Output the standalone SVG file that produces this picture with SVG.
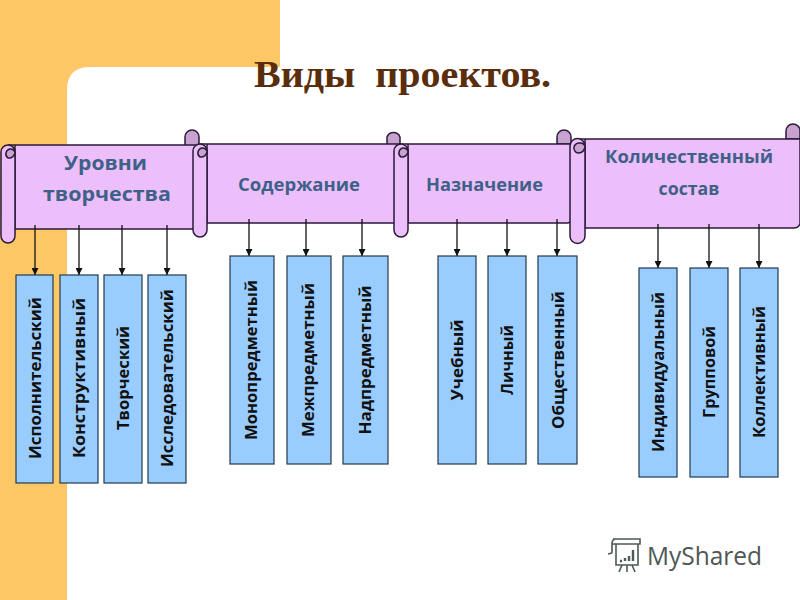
<svg xmlns="http://www.w3.org/2000/svg" width="800" height="600" viewBox="0 0 800 600">
<style>
.body{fill:#ecbffb;stroke:#2b1a3a;stroke-width:1.5}
.curl{fill:#c9a3cf;stroke:#2b1a3a;stroke-width:1.5}
.head{font-family:"Open Sans","Noto Sans",sans-serif;font-weight:700;fill:#3e6187;text-anchor:middle}
.box{fill:#99ccff;stroke:#1f3a4d;stroke-width:1.2}
.lab{font-family:"Open Sans","Noto Sans",sans-serif;font-weight:700;font-size:15.5px;fill:#111;text-anchor:middle}
.conn{stroke:#111;stroke-width:1.3;fill:none;marker-end:url(#arr)}
</style>
<defs>
<marker id="arr" markerUnits="userSpaceOnUse" markerWidth="8" markerHeight="7" refX="7" refY="3.5" orient="auto"><path d="M0 0L7 3.5L0 7Z" fill="#111"/></marker>
</defs>
<g id="background">
<rect width="800" height="600" fill="#fff"/>
<path d="M0 0H280V67H90Q67 67 67 90V600H0Z" fill="#fec765"/>
</g>
<text id="title" x="254" y="87" font-family="Liberation Serif,serif" font-weight="700" font-size="38" fill="#5a2d0c" textLength="297" lengthAdjust="spacingAndGlyphs" xml:space="preserve">Виды  проектов.</text>

<g id="scroll-1">
<path class="curl" d="M185 146V137A7 7 0 0 1 199 137V146Z"/>
<path class="body" d="M8 145H195Q199 145 199 149V229H15V145Z"/>
<path class="body" d="M1 152A7 7 0 0 1 15 152V236A7 7 0 0 1 1 236Z"/>
<path class="curl" d="M8 158A6 6 0 0 0 15 152A5 5 0 0 0 10 149A5 5 0 0 0 8 158Z"/>
<text class="head" x="105.500" y="170" font-size="20" textLength="83" lengthAdjust="spacingAndGlyphs">Уровни</text>
<text class="head" x="107" y="201" font-size="20" textLength="128" lengthAdjust="spacingAndGlyphs">творчества</text>
</g>
<g id="scroll-2">
<path class="curl" d="M387 145V137A7 7 0 0 1 400 137V145Z"/>
<path class="body" d="M200 144H400V219Q400 223 396 223H207V144Z"/>
<path class="body" d="M193 151A7 7 0 0 1 207 151V230A7 7 0 0 1 193 230Z"/>
<path class="curl" d="M200 157A6 6 0 0 0 207 151A5 5 0 0 0 202 148A5 5 0 0 0 200 157Z"/>
<text class="head" x="299" y="191" font-size="18" textLength="122" lengthAdjust="spacingAndGlyphs">Содержание</text>
</g>
<g id="scroll-3">
<path class="curl" d="M557 144V137A7 7 0 0 1 571 137V144Z"/>
<path class="body" d="M401 144H571V219Q571 223 567 223H408V144Z"/>
<path class="body" d="M394 151A7 7 0 0 1 408 151V230A7 7 0 0 1 394 230Z"/>
<path class="curl" d="M401 157A6 6 0 0 0 408 151A5 5 0 0 0 403 148A5 5 0 0 0 401 157Z"/>
<text class="head" x="484.500" y="191" font-size="18" textLength="117" lengthAdjust="spacingAndGlyphs">Назначение</text>
</g>
<g id="scroll-4">
<path class="curl" d="M786 139V131A7 7 0 0 1 800 131V139Z"/>
<path class="body" d="M578 139H800V224Q798 228 794 228H585V139Z"/>
<path class="body" d="M570 146A7.5 7.5 0 0 1 585 146V236A7.5 7.5 0 0 1 570 236Z"/>
<path class="curl" d="M578 153A6.500 6.500 0 0 0 585 146A5 5 0 0 0 580 143A5 5 0 0 0 578 153Z"/>
<text class="head" x="689" y="163" font-size="17.500" textLength="168" lengthAdjust="spacingAndGlyphs">Количественный</text>
<text class="head" x="689" y="195" font-size="17.500" textLength="61" lengthAdjust="spacingAndGlyphs">состав</text>
</g>

<g id="connectors">
<path class="conn" d="M35 225V275"/><path class="conn" d="M79 225V275"/><path class="conn" d="M122 225V275"/><path class="conn" d="M167 225V275"/>
<path class="conn" d="M249 219V256"/><path class="conn" d="M306 219V256"/><path class="conn" d="M362 219V256"/>
<path class="conn" d="M457 219V256"/><path class="conn" d="M507 219V256"/><path class="conn" d="M557 219V256"/>
<path class="conn" d="M658 224V268"/><path class="conn" d="M709 224V268"/><path class="conn" d="M759 224V268"/>
</g>

<g id="n1"><rect class="box" x="16" y="275" width="37" height="208"/><text class="lab" transform="translate(41 378) rotate(-90)" textLength="162" lengthAdjust="spacingAndGlyphs">Исполнительский</text></g>
<g id="n2"><rect class="box" x="60" y="275" width="38" height="208"/><text class="lab" transform="translate(85 378) rotate(-90)" textLength="160" lengthAdjust="spacingAndGlyphs">Конструктивный</text></g>
<g id="n3"><rect class="box" x="104" y="275" width="38" height="208"/><text class="lab" transform="translate(129 378) rotate(-90)" textLength="104" lengthAdjust="spacingAndGlyphs">Творческий</text></g>
<g id="n4"><rect class="box" x="148" y="275" width="38" height="208"/><text class="lab" transform="translate(173 378) rotate(-90)" textLength="178" lengthAdjust="spacingAndGlyphs">Исследовательский</text></g>
<g id="n5"><rect class="box" x="230" y="256" width="44" height="208"/><text class="lab" transform="translate(257 360) rotate(-90)" textLength="160" lengthAdjust="spacingAndGlyphs">Монопредметный</text></g>
<g id="n6"><rect class="box" x="287" y="256" width="44" height="208"/><text class="lab" transform="translate(314 360) rotate(-90)" textLength="154" lengthAdjust="spacingAndGlyphs">Межпредметный</text></g>
<g id="n7"><rect class="box" x="343" y="256" width="45" height="208"/><text class="lab" transform="translate(371 360) rotate(-90)" textLength="149" lengthAdjust="spacingAndGlyphs">Надпредметный</text></g>
<g id="n8"><rect class="box" x="438" y="256" width="38" height="208"/><text class="lab" transform="translate(463 360) rotate(-90)" textLength="81" lengthAdjust="spacingAndGlyphs">Учебный</text></g>
<g id="n9"><rect class="box" x="488" y="256" width="38" height="208"/><text class="lab" transform="translate(513 360) rotate(-90)" textLength="70" lengthAdjust="spacingAndGlyphs">Личный</text></g>
<g id="n10"><rect class="box" x="538" y="256" width="39" height="208"/><text class="lab" transform="translate(564 360) rotate(-90)" textLength="138" lengthAdjust="spacingAndGlyphs">Общественный</text></g>
<g id="n11"><rect class="box" x="639" y="268" width="38" height="209"/><text class="lab" transform="translate(664 372) rotate(-90)" textLength="160" lengthAdjust="spacingAndGlyphs">Индивидуальный</text></g>
<g id="n12"><rect class="box" x="690" y="268" width="38" height="209"/><text class="lab" transform="translate(715 372) rotate(-90)" textLength="92" lengthAdjust="spacingAndGlyphs">Групповой</text></g>
<g id="n13"><rect class="box" x="740" y="268" width="38" height="209"/><text class="lab" transform="translate(765 372) rotate(-90)" textLength="132" lengthAdjust="spacingAndGlyphs">Коллективный</text></g>

<g id="logo" fill="none" stroke="#4d5a55" stroke-width="1.6">
<path d="M613 539H640V544H612M612 553V544Q612 539 616 539M616 544V565H638V544"/>
<path d="M612 553L608 554M622 565L619 572M627 565V572M632 565L635 572"/>
<path d="M620 561H622M625 558V561M629 556V561M633 550V561" stroke-width="2.400"/>
<text x="647" y="565" font-family="Open Sans,Noto Sans,sans-serif" font-size="26" fill="#4f5754" stroke="none" textLength="115" lengthAdjust="spacingAndGlyphs">MyShared</text>
</g>
</svg>
